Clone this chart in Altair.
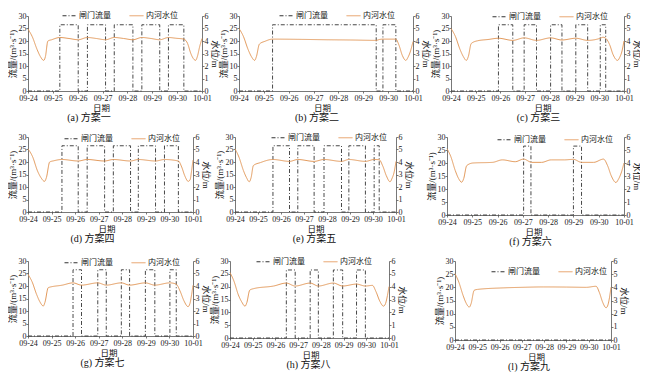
import altair as alt
import pandas as pd

# ---------------- data ----------------
dates = ["09-24", "09-25", "09-26", "09-27", "09-28", "09-29", "09-30", "10-01"]
series_names = ["闸门流量", "内河水位"]
gate_peak = 26.5
flow_ticks = [0, 5, 10, 15, 20, 25, 30]
level_ticks = [0, 1, 2, 3, 4, 5, 6]
captions = ["(a) 方案一", "(b) 方案二", "(c) 方案三", "(d) 方案四", "(e) 方案五",
            "(f) 方案六", "(g) 方案七", "(h) 方案八", "(l) 方案九"]

# gate opening periods (day offsets from 09-24)
gate_a = [(1.28, 2.02), (2.39, 3.12), (3.47, 4.22), (4.58, 5.30), (5.65, 6.27)]
gate_b = [(1.35, 5.52), (5.79, 6.31)]
gate_c = [(1.92, 2.50), (2.96, 3.46), (4.03, 4.49), (5.05, 5.53), (6.04, 6.26)]
gate_d = [(1.44, 2.13), (2.51, 3.25), (3.62, 4.35), (4.68, 5.41), (5.79, 6.38)]
gate_e = [(1.65, 2.37), (2.73, 3.44), (3.87, 4.63), (4.95, 5.67), (6.05, 6.27)]
gate_f = [(3.03, 3.32), (5.00, 5.32)]
gate_g = [(1.91, 2.27), (2.96, 3.32), (3.96, 4.31), (4.98, 5.38), (6.02, 6.29)]
gate_h = [(2.48, 2.87), (3.53, 3.89), (4.55, 4.96), (5.57, 5.96)]
gate_i = []

# inner river water level (m)
wl_t_a = [0, 0.17, 0.37, 0.5, 0.63, 0.7, 0.8, 0.95, 1.28, 1.65, 2.02, 2.39, 2.75, 3.12, 3.47,
          3.85, 4.22, 4.58, 4.95, 5.30, 5.65, 5.95, 6.27, 6.42, 6.55, 6.65, 6.74, 6.82, 6.9, 7.0]
wl_v_a = [4.95, 4.35, 3.3, 2.75, 2.45, 2.75, 4.0, 4.1, 4.28, 4.2, 4.1, 4.28, 4.2, 4.1, 4.28,
          4.2, 4.1, 4.28, 4.2, 4.1, 4.28, 4.22, 4.15, 3.8, 3.0, 2.6, 2.45, 2.8, 3.5, 4.2]
wl_t_b = [0, 0.17, 0.37, 0.5, 0.63, 0.7, 0.82, 1.05, 1.35, 2.5, 3.5, 4.5, 5.52, 5.65, 5.79,
          6.31, 6.43, 6.57, 6.71, 6.8, 6.9, 7.0]
wl_v_b = [5.0, 4.4, 3.3, 2.75, 2.45, 2.75, 3.75, 3.98, 4.15, 4.13, 4.1, 4.08, 4.05, 4.12, 4.15,
          4.15, 3.7, 2.85, 2.45, 2.7, 3.2, 3.95]
wl_t_c = [0, 0.17, 0.37, 0.5, 0.62, 0.7, 0.82, 1.08, 1.5, 1.92, 2.5, 2.96, 3.46, 4.03, 4.49,
          5.05, 5.53, 6.04, 6.15, 6.26, 6.42, 6.56, 6.74, 6.83, 6.92, 7.0]
wl_v_c = [5.0, 4.4, 3.3, 2.75, 2.45, 2.75, 3.8, 4.02, 4.12, 4.22, 4.05, 4.25, 4.05, 4.25, 4.08,
          4.22, 4.05, 4.22, 4.3, 4.22, 3.7, 2.9, 2.45, 2.7, 3.2, 4.0]
wl_t_d = [0, 0.2, 0.4, 0.55, 0.7, 0.78, 0.92, 1.1, 1.44, 2.13, 2.51, 3.25, 3.62, 4.35, 4.68,
          5.41, 5.79, 6.38, 6.52, 6.65, 6.8, 6.88, 6.94, 7.0]
wl_v_d = [5.05, 4.4, 3.3, 2.75, 2.45, 2.75, 4.0, 4.1, 4.2, 4.08, 4.2, 4.08, 4.2, 4.08, 4.2,
          4.08, 4.2, 4.08, 3.6, 2.9, 2.45, 2.6, 3.3, 4.15]
wl_t_e = [0, 0.17, 0.37, 0.5, 0.62, 0.7, 0.8, 1.1, 1.65, 2.37, 2.73, 3.44, 3.87, 4.63, 4.95,
          5.67, 6.05, 6.27, 6.42, 6.58, 6.74, 6.83, 6.92, 7.0]
wl_v_e = [5.05, 4.4, 3.3, 2.75, 2.42, 2.75, 3.72, 3.95, 4.2, 4.05, 4.2, 4.05, 4.2, 4.05, 4.2,
          4.05, 4.2, 4.18, 3.7, 2.9, 2.42, 2.7, 3.2, 4.05]
wl_t_f = [0, 0.15, 0.33, 0.46, 0.58, 0.66, 0.78, 1.03, 1.8, 2.19, 2.7, 3.03, 3.35, 3.74, 4.12,
          4.64, 5.0, 5.32, 5.8, 6.19, 6.35, 6.5, 6.68, 6.78, 6.9, 7.0]
wl_v_f = [5.1, 4.5, 3.4, 2.8, 2.52, 2.8, 3.8, 4.0, 4.05, 4.24, 4.1, 4.3, 4.05, 4.05, 4.24,
          4.24, 4.28, 4.05, 4.05, 4.3, 3.8, 3.0, 2.5, 2.75, 3.3, 4.0]
wl_t_g = [0, 0.17, 0.37, 0.5, 0.65, 0.72, 0.86, 1.46, 1.91, 2.27, 2.96, 3.32, 3.96, 4.31, 4.98,
          5.38, 6.02, 6.29, 6.45, 6.62, 6.79, 6.87, 6.94, 7.0]
wl_v_g = [4.93, 4.35, 3.3, 2.75, 2.4, 2.7, 3.87, 4.07, 4.25, 4.07, 4.25, 4.07, 4.25, 4.07, 4.25,
          4.07, 4.25, 4.15, 3.6, 2.8, 2.35, 2.6, 3.3, 4.05]
wl_t_h = [0, 0.17, 0.37, 0.52, 0.66, 0.74, 0.87, 1.05, 1.92, 2.48, 2.87, 3.53, 3.89, 4.55, 4.96,
          5.57, 5.96, 6.27, 6.43, 6.6, 6.76, 6.85, 6.93, 7.0]
wl_v_h = [5.1, 4.45, 3.35, 2.8, 2.48, 2.75, 3.73, 3.85, 4.05, 4.28, 4.05, 4.28, 4.05, 4.28, 4.05,
          4.2, 4.05, 4.1, 3.6, 2.85, 2.48, 2.7, 3.3, 4.0]
wl_t_i = [0, 0.17, 0.37, 0.5, 0.64, 0.72, 0.86, 1.0, 2.19, 3.0, 3.96, 5.0, 5.89, 6.33, 6.48,
          6.63, 6.78, 6.86, 6.93, 7.0]
wl_v_i = [5.04, 4.4, 3.35, 2.8, 2.5, 2.75, 3.77, 3.84, 3.96, 4.0, 4.03, 4.02, 4.0, 4.08, 3.6,
          2.85, 2.45, 2.65, 3.2, 4.0]

gates = [gate_a, gate_b, gate_c, gate_d, gate_e, gate_f, gate_g, gate_h, gate_i]
wl_ts = [wl_t_a, wl_t_b, wl_t_c, wl_t_d, wl_t_e, wl_t_f, wl_t_g, wl_t_h, wl_t_i]
wl_vs = [wl_v_a, wl_v_b, wl_v_c, wl_v_d, wl_v_e, wl_v_f, wl_v_g, wl_v_h, wl_v_i]

# ---------------- layout / style ----------------
panel_w = [174, 174, 173, 165, 161, 177, 165, 159, 156]
panel_h = [75, 75, 75, 75, 75, 78, 75, 77, 79]
row_gaps = [[37, 38], [42, 51], [37, 66]]
legend_xy = [(34, -8), (40, -8), (41, -7), (36, -6), (36, -7), (50, -5), (36, -6), (26, -7), (36, 3)]
xtitle_off = [-14, -4, 5, -4, 0, -2, -2, 1, 3]
caption_dx = [-26, -9, 1, -18, -1, -5, -8, -1, -4]

FONT = "Liberation Serif, Noto Sans CJK SC"
AXC = "#555555"
LINE_COLORS = ["#333333", "#E39A5C"]
label_expr = "[" + ",".join("'%s'" % d for d in dates) + "][datum.value]"


def panel(k):
    gate, wt, wv = gates[k], wl_ts[k], wl_vs[k]
    w, h = panel_w[k], panel_h[k]
    ft, fv = [0.0], [0.0]
    for s, e in gate:
        ft += [s, s, e, e]
        fv += [0.0, gate_peak, gate_peak, 0.0]
    ft.append(7.0)
    fv.append(0.0)
    fdf = pd.DataFrame({"t": ft, "q": fv, "i": list(range(len(ft))), "s": series_names[0]})
    wdf = pd.DataFrame({"t": wt, "z": wv, "s": series_names[1]})

    lx, ly = legend_xy[k]
    legend = alt.Legend(title=None, orient="none", legendX=lx, legendY=ly,
                        direction="horizontal", symbolType="stroke", symbolSize=196,
                        symbolStrokeWidth=1, labelFont=FONT, labelFontSize=8,
                        labelColor="#111", columnPadding=16, labelOffset=2, padding=0)
    color = alt.Color("s:N", scale=alt.Scale(domain=series_names, range=LINE_COLORS), legend=legend)
    dash = alt.StrokeDash("s:N", scale=alt.Scale(domain=series_names, range=[[4, 2, 1, 2], [1, 0]]),
                          legend=legend)
    x = alt.X("t:Q", scale=alt.Scale(domain=[0, 7], nice=False, zero=False),
              axis=alt.Axis(values=list(range(8)), labelExpr=label_expr, title="日期",
                            labelFlush=False, labelOverlap=False, grid=False, labelPadding=1,
                            titleX=w / 2 + xtitle_off[k], titlePadding=1, titleFontSize=8.5))
    flow = alt.Chart(fdf).mark_line(strokeWidth=0.9, interpolate="linear").encode(
        x=x,
        y=alt.Y("q:Q", scale=alt.Scale(domain=[0, 30], nice=False),
                axis=alt.Axis(orient="left", values=flow_ticks, title="流量/(m³·s⁻¹)",
                              grid=False, titlePadding=1, labelPadding=0)),
        order="i:Q", color=color, strokeDash=dash)
    wl = alt.Chart(wdf).mark_line(strokeWidth=1, interpolate="monotone").encode(
        x=x,
        y=alt.Y("z:Q", scale=alt.Scale(domain=[0, 6], nice=False),
                axis=alt.Axis(orient="right", values=level_ticks, title="水位/m",
                              grid=False, titlePadding=1, labelPadding=0)),
        color=color, strokeDash=dash)
    return alt.layer(flow, wl).resolve_scale(y="independent").properties(
        width=w, height=h,
        title=alt.Title(captions[k], orient="bottom", offset=1, dx=caption_dx[k],
                        font=FONT, fontSize=10, fontWeight="normal", color="#111"))


def spacer(w):
    return alt.Chart(pd.DataFrame({"v": [0]})).mark_point(opacity=0).encode(
        x=alt.value(0), y=alt.value(0)).properties(width=w, height=1)


rows = []
for r in range(3):
    g1, g2 = row_gaps[r]
    row = alt.hconcat(panel(3 * r), spacer(g1), panel(3 * r + 1), spacer(g2), panel(3 * r + 2),
                      spacing=0, bounds="flush").resolve_scale(color="independent",
                                                              strokeDash="independent")
    rows.append(row)

chart = alt.vconcat(*rows, spacing=7).resolve_scale(
    color="independent", strokeDash="independent").properties(
    padding={"left": 0, "top": 0, "right": 0, "bottom": 0}
).configure_view(stroke=None).configure_axis(
    labelFont=FONT, labelFontSize=8, labelColor="#222",
    titleFont=FONT, titleFontSize=9, titleFontWeight="normal", titleColor="#111",
    domainColor=AXC, tickColor=AXC, tickSize=2, domainWidth=0.8, tickWidth=0.8
)

chart.save("out.html", embed_options={"renderer": "svg", "actions": False})
